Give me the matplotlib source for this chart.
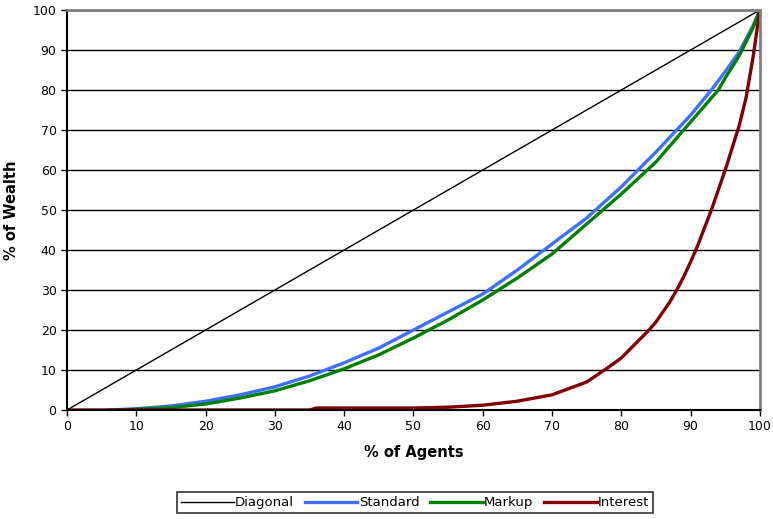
import matplotlib
matplotlib.use('Agg')
import matplotlib.pyplot as plt

# Lorenz curves: % of agents vs % of wealth
diag_x = [0, 100]
diag_y = [0, 100]

std_x = [6, 10, 15, 20, 25, 30, 35, 40, 45, 50, 55, 60, 65, 70, 75, 80, 85, 90, 93, 95, 97, 99, 100]
std_y = [0, 0.3, 1, 2.2, 3.8, 5.8, 8.5, 11.8, 15.5, 20, 24.5, 29, 35, 41.5, 48, 55.8, 64.5, 73.7, 80, 84.6, 89.5, 96, 100]

mkp_x = [7.5, 10, 15, 20, 25, 30, 35, 40, 45, 50, 55, 60, 65, 70, 75, 80, 85, 90, 94, 95, 97, 99, 100]
mkp_y = [0, 0.2, 0.6, 1.5, 3, 4.8, 7.3, 10.3, 13.8, 18, 22.5, 27.5, 33, 39, 46.5, 54, 62, 72, 80, 83, 88.5, 95.5, 100]

int_x = [0, 35, 36, 50, 55, 60, 65, 70, 75, 78, 80, 82, 84, 85, 86, 87, 88, 89, 90, 91, 92,
         93, 94, 95, 96, 97, 98, 99, 100]
int_y = [0, 0, 0.5, 0.5, 0.7, 1.2, 2.2, 3.8, 7, 10.5, 13, 16.5, 20, 22, 24.5, 27, 30, 33.3, 37, 41,
         45.5, 50, 55, 60, 65.5, 71, 78, 88, 100]

fig = plt.figure(figsize=(7.73, 5.19), dpi=100)
ax = fig.add_axes([0.0867, 0.21, 0.8963, 0.7707])

ax.plot(diag_x, diag_y, color='black', lw=1.0, label='Diagonal')
ax.plot(std_x, std_y, color='#3f6fff', lw=2.4, label='Standard', solid_joinstyle='round')
ax.plot(mkp_x, mkp_y, color='#008000', lw=2.4, label='Markup', solid_joinstyle='round')
ax.plot(int_x, int_y, color='#800000', lw=2.4, label='Interest', solid_joinstyle='round')

ax.set_xlim(0, 100)
ax.set_ylim(0, 100)
ax.set_xticks(range(0, 101, 10))
ax.set_yticks(range(0, 101, 10))
ax.yaxis.grid(True, color='black', lw=1.0)
ax.set_axisbelow(True)

for s in ['top', 'right']:
    ax.spines[s].set_color('#808080')
    ax.spines[s].set_linewidth(2)
for s in ['left', 'bottom']:
    ax.spines[s].set_color('black')
    ax.spines[s].set_linewidth(1.5)
ax.tick_params(direction='out', length=4, width=1, labelsize=9, colors='black')

ax.set_xlabel('% of Agents', fontsize=10.5, fontweight='bold', labelpad=8)
ax.set_ylabel('% of Wealth', fontsize=10.5, fontweight='bold', labelpad=10)

leg = fig.legend(loc='center', bbox_to_anchor=(0.537, 0.031), ncol=4, fontsize=9.5,
                 frameon=True, fancybox=False, edgecolor='black', handlelength=4.0,
                 handletextpad=0.1, columnspacing=0.8, borderpad=0.3)
leg.get_frame().set_linewidth(1.2)

fig.savefig('out.png', dpi=100)
